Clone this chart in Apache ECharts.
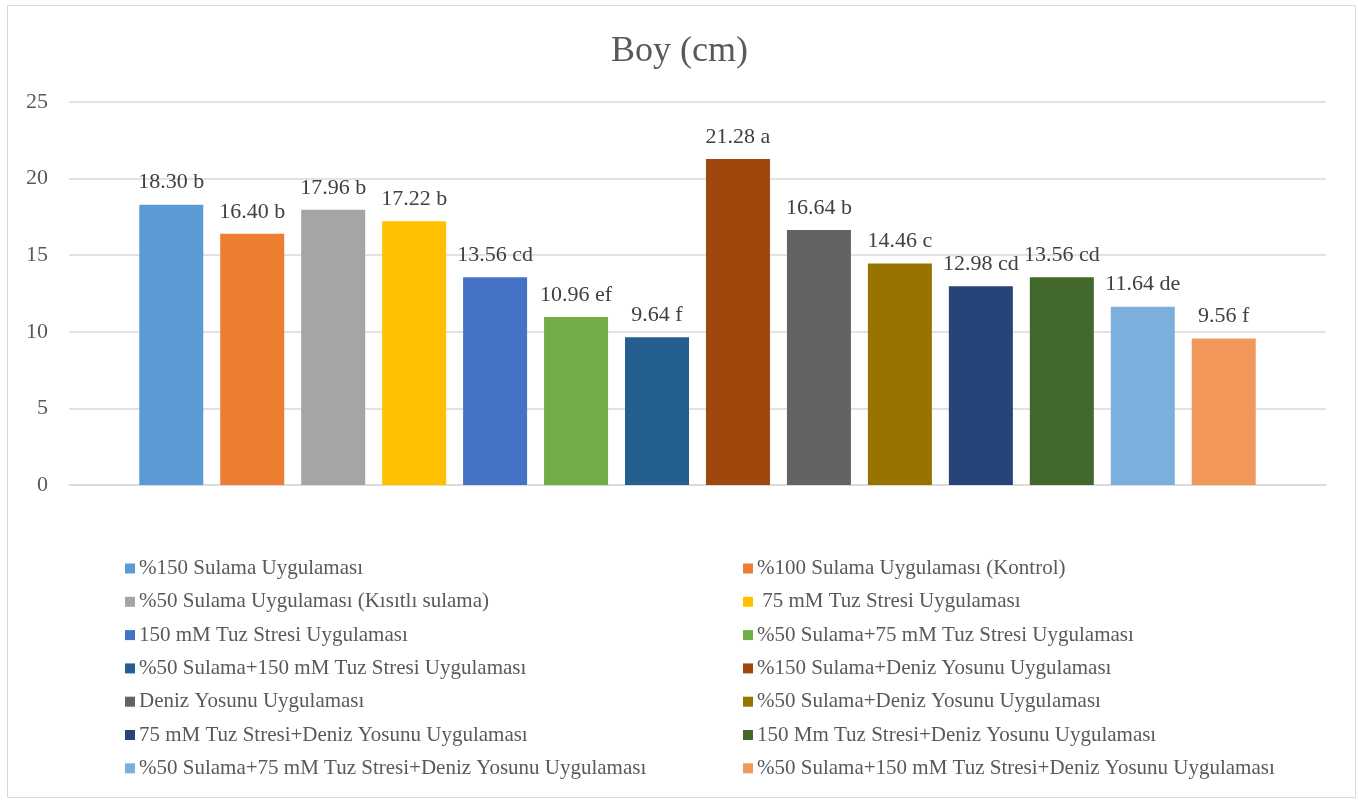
<!DOCTYPE html>
<html>
<head>
<meta charset="utf-8">
<script src="https://cdn.jsdelivr.net/npm/echarts@6/dist/echarts.min.js"></script>
<style>
  html, body { margin: 0; padding: 0; background: #fff; }
  #chart { width: 1359px; height: 800px; }
</style>
</head>
<body>
<div id="chart"></div>
<script>
// Boy (cm) - uygulamalara göre
const seriesNames = [
  '%150 Sulama Uygulaması',
  '%100 Sulama Uygulaması (Kontrol)',
  '%50 Sulama Uygulaması (Kısıtlı sulama)',
  ' 75 mM Tuz Stresi Uygulaması',
  '150 mM Tuz Stresi Uygulaması',
  '%50 Sulama+75 mM Tuz Stresi Uygulaması',
  '%50 Sulama+150 mM Tuz Stresi Uygulaması',
  '%150 Sulama+Deniz Yosunu Uygulaması',
  'Deniz Yosunu Uygulaması',
  '%50 Sulama+Deniz Yosunu Uygulaması',
  '75 mM Tuz Stresi+Deniz Yosunu Uygulaması',
  '150 Mm Tuz Stresi+Deniz Yosunu Uygulaması',
  '%50 Sulama+75 mM Tuz Stresi+Deniz Yosunu Uygulaması',
  '%50 Sulama+150 mM Tuz Stresi+Deniz Yosunu Uygulaması'
]
const values = [18.30, 16.40, 17.96, 17.22, 13.56, 10.96, 9.64, 21.28, 16.64, 14.46, 12.98, 13.56, 11.64, 9.56]
const letters = ['b', 'b', 'b', 'b', 'cd', 'ef', 'f', 'a', 'b', 'c', 'cd', 'cd', 'de', 'f']
const colors = ['#5B9BD5', '#ED7D31', '#A5A5A5', '#FFC000', '#4472C4', '#70AD47', '#255E91',
  '#9E480E', '#636363', '#997300', '#264478', '#43682B', '#7CAFDD', '#F1975A']

const font = '"Liberation Serif", "Times New Roman", serif'

const chart = echarts.init(document.getElementById('chart'))

const series = seriesNames.map((name, i) => ({
  name: name,
  type: 'bar',
  barWidth: 64,
  barGap: '26.5%',
  itemStyle: { color: colors[i] },
  label: {
    show: true,
    position: 'top',
    distance: 11,
    fontFamily: font,
    fontSize: 22,
    color: '#404040',
    formatter: () => values[i].toFixed(2) + ' ' + letters[i]
  },
  data: [values[i]]
}))

const legendCommon = {
  orient: 'vertical',
  top: 553,
  itemWidth: 10,
  itemHeight: 10,
  itemGap: 12.3,
  icon: 'rect',
  textStyle: { fontFamily: font, fontSize: 21, color: '#595959', padding: [0, 0, 0, -1] }
}

chart.setOption({
  animation: false,
  color: colors,
  title: {
    text: 'Boy (cm)',
    left: 'center',
    top: 29,
    textStyle: { fontFamily: font, fontSize: 36, fontWeight: 'normal', color: '#595959' }
  },
  graphic: [{
    type: 'rect',
    shape: { x: 7.5, y: 5.5, width: 1348, height: 792 },
    style: { fill: 'none', stroke: '#d9d9d9', lineWidth: 1 }
  }],
  legend: [
    Object.assign({}, legendCommon, { left: 120, data: seriesNames.filter((n, i) => i % 2 === 0) }),
    Object.assign({}, legendCommon, { left: 738, data: seriesNames.filter((n, i) => i % 2 === 1) })
  ],
  grid: { left: 69, right: 33, top: 102, height: 383 },
  xAxis: {
    type: 'category',
    data: [''],
    axisLine: { lineStyle: { color: '#d9d9d9', width: 1.5 } },
    axisTick: { show: false },
    axisLabel: { show: false }
  },
  yAxis: {
    type: 'value',
    min: 0,
    max: 25,
    interval: 5,
    axisLine: { show: false },
    axisTick: { show: false },
    axisLabel: { fontFamily: font, fontSize: 22, color: '#595959', margin: 21 },
    splitLine: { lineStyle: { color: '#d9d9d9', width: 1.5 } }
  },
  series: series
})
</script>
</body>
</html>
